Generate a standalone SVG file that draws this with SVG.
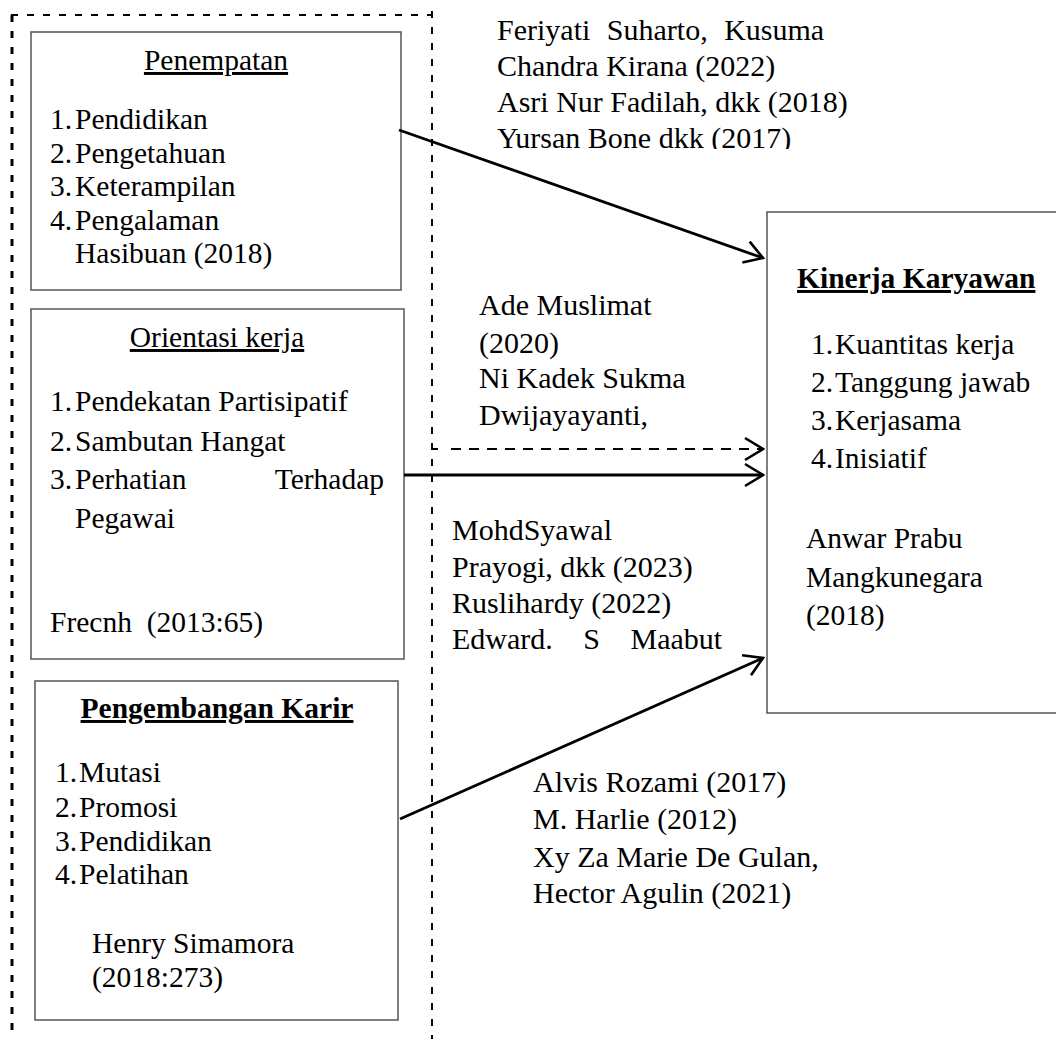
<svg xmlns="http://www.w3.org/2000/svg" width="1056" height="1039" viewBox="0 0 1056 1039">
<style>
text{font-family:"Liberation Serif","Times New Roman",serif;font-size:29.5px;fill:#000}
.c{font-size:30px}
.b{font-weight:bold}
.u{text-decoration:underline}
.box{fill:#fff;stroke:#555;stroke-width:1.5}
.frame{fill:none;stroke:#000;stroke-width:2;stroke-dasharray:7 9}
.ar{fill:none;stroke:#000;stroke-width:2.8}
</style>
<defs>
<marker id="arr" markerUnits="userSpaceOnUse" viewBox="0 0 22 26" markerWidth="22" markerHeight="26" refX="20" refY="13" orient="auto">
<path d="M2,2 L20,13 L2,24" fill="none" stroke="#000" stroke-width="2.6"/>
</marker>
<clipPath id="clipTop"><rect x="0" y="0" width="1056" height="149"/></clipPath>
</defs>
<rect width="1056" height="1039" fill="#fff"/>
<g id="frame">
<path class="frame" d="M11,15 H432"/>
<path d="M12,15 V1039" fill="none" stroke="#000" stroke-width="3" stroke-dasharray="7 9"/>
<path class="frame" d="M432,11 V1039"/>
</g>
<g id="penempatan">
<rect class="box" x="31" y="32" width="370" height="258"/>
<text class="u" x="216" y="70" text-anchor="middle">Penempatan</text>
<text x="50" y="129">1.</text><text x="75" y="129">Pendidikan</text>
<text x="50" y="163">2.</text><text x="75" y="163">Pengetahuan</text>
<text x="50" y="196">3.</text><text x="75" y="196">Keterampilan</text>
<text x="50" y="230">4.</text><text x="75" y="230">Pengalaman</text>
<text x="75" y="263">Hasibuan (2018)</text>
</g>
<g id="orientasi">
<rect class="box" x="31" y="309" width="373" height="350"/>
<text class="u" x="217" y="347" text-anchor="middle">Orientasi kerja</text>
<text x="50" y="411">1.</text><text x="75" y="411">Pendekatan Partisipatif</text>
<text x="50" y="451">2.</text><text x="75" y="451">Sambutan Hangat</text>
<text x="50" y="489">3.</text><text x="75" y="489">Perhatian</text><text x="384" y="489" text-anchor="end">Terhadap</text>
<text x="75" y="528">Pegawai</text>
<text x="50" y="632" style="white-space:pre">Frecnh  (2013:65)</text>
</g>
<g id="pengembangan">
<rect class="box" x="35" y="681" width="363" height="339"/>
<text class="b u" x="217" y="718" text-anchor="middle">Pengembangan Karir</text>
<text x="55" y="782">1.</text><text x="79" y="782">Mutasi</text>
<text x="55" y="817">2.</text><text x="79" y="817">Promosi</text>
<text x="55" y="851">3.</text><text x="79" y="851">Pendidikan</text>
<text x="55" y="884">4.</text><text x="79" y="884">Pelatihan</text>
<text x="92" y="953">Henry Simamora</text>
<text x="92" y="987">(2018:273)</text>
</g>
<g id="kinerja">
<rect class="box" x="767" y="212" width="300" height="501"/>
<text class="b u" x="797" y="288">Kinerja Karyawan</text>
<text x="811" y="354">1.</text><text x="835" y="354">Kuantitas kerja</text>
<text x="811" y="392">2.</text><text x="835" y="392">Tanggung jawab</text>
<text x="811" y="430">3.</text><text x="835" y="430">Kerjasama</text>
<text x="811" y="468">4.</text><text x="835" y="468">Inisiatif</text>
<text x="806" y="548">Anwar Prabu</text>
<text x="806" y="587">Mangkunegara</text>
<text x="806" y="625">(2018)</text>
</g>
<g id="cite-top" clip-path="url(#clipTop)">
<text class="c" x="497" y="40" word-spacing="9">Feriyati Suharto, Kusuma</text>
<text class="c" x="497" y="76">Chandra Kirana (2022)</text>
<text class="c" x="497" y="112">Asri Nur Fadilah, dkk (2018)</text>
<text class="c" x="497" y="148">Yursan Bone dkk (2017)</text>
</g>
<g id="cite-mid">
<text class="c" x="479" y="315">Ade Muslimat</text>
<text class="c" x="479" y="353">(2020)</text>
<text class="c" x="479" y="388">Ni Kadek Sukma</text>
<text class="c" x="479" y="425">Dwijayayanti,</text>
</g>
<g id="cite-low">
<text class="c" x="452" y="540">MohdSyawal</text>
<text class="c" x="452" y="577">Prayogi, dkk (2023)</text>
<text class="c" x="452" y="613">Ruslihardy (2022)</text>
<text class="c" x="452" y="649" word-spacing="23">Edward. S Maabut</text>
</g>
<g id="cite-bottom">
<text class="c" x="533" y="792">Alvis Rozami (2017)</text>
<text class="c" x="533" y="829">M. Harlie (2012)</text>
<text class="c" x="533" y="867">Xy Za Marie De Gulan,</text>
<text class="c" x="533" y="903">Hector Agulin (2021)</text>
</g>
<g id="connectors">
<line class="ar" x1="399" y1="130" x2="763" y2="258" marker-end="url(#arr)"/>
<line x1="432" y1="449" x2="438" y2="449" stroke="#000" stroke-width="2"/>
<line x1="451" y1="449" x2="763" y2="449" stroke="#000" stroke-width="2" stroke-dasharray="10 8" marker-end="url(#arr)"/>
<line class="ar" x1="404" y1="475" x2="763" y2="475" marker-end="url(#arr)"/>
<line class="ar" x1="400" y1="819" x2="763" y2="658" marker-end="url(#arr)"/>
</g>
</svg>
